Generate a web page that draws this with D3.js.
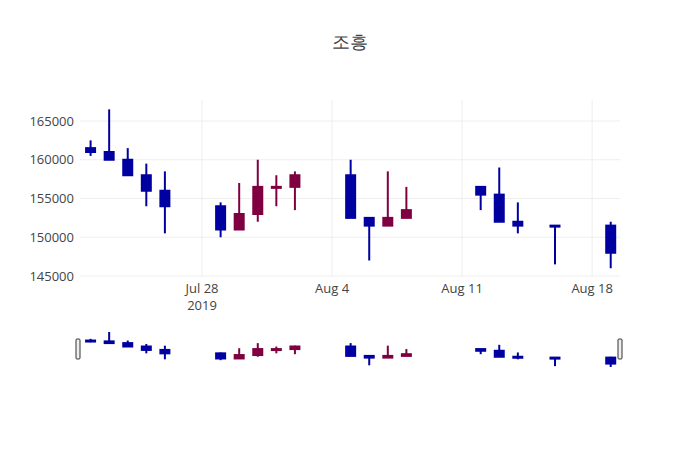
<!DOCTYPE html>
<html><head><meta charset="utf-8">
<script src="https://cdn.jsdelivr.net/npm/d3@7"></script>
<style>body{margin:0;background:#fff}text{font-family:"Open Sans",Verdana,sans-serif}</style>
</head><body><svg id="chart" width="700" height="450"></svg>
<script>
// candle data
var dates = ["2019-07-22","2019-07-23","2019-07-24","2019-07-25","2019-07-26",
  "2019-07-29","2019-07-30","2019-07-31","2019-08-01","2019-08-02",
  "2019-08-05","2019-08-06","2019-08-07","2019-08-08",
  "2019-08-12","2019-08-13","2019-08-14","2019-08-16","2019-08-19"];
var opens  = [161500,161000,160000,158000,156000,154000,151000,153000,156400,156500,158000,152500,151500,152500,156500,155500,152000,151500,151500];
var highs  = [162500,166500,161500,159500,158500,154500,157000,160000,158000,158500,160000,152500,158500,156500,156500,159000,154500,151500,152000];
var lows   = [160500,160000,158000,154000,150500,150000,151000,152000,154000,153500,152500,147000,151500,152500,153500,152000,150500,146500,146000];
var closes = [161000,160000,158000,156000,154000,151000,153000,156500,156500,158000,152500,151500,152500,153500,155500,152000,151500,151500,148000];
var yTicks = [145000,150000,155000,160000,165000];
var xTicks = ["2019-07-28","2019-08-04","2019-08-11","2019-08-18"];

var parse = d3.timeParse("%Y-%m-%d");
var rows = dates.map(function(d,i){return {date:parse(d),o:opens[i],h:highs[i],l:lows[i],c:closes[i]};});
var svg = d3.select("#chart");
var day = 864e5;

var x = d3.scaleTime().domain([new Date(parse("2019-07-22")-0.57*day), new Date(+parse("2019-08-19")+0.5*day)]).range([80,620]);
var y = d3.scaleLinear().domain([145000,165000]).range([276,121]);
var ys = d3.scaleLinear().domain([d3.min(lows),d3.max(highs)]).range([367,332]);

// grid
svg.append("g").selectAll("line").data(yTicks).join("line")
  .attr("x1",80).attr("x2",620).attr("y1",y).attr("y2",y).attr("stroke","#eee");
svg.append("g").selectAll("line").data(xTicks).join("line")
  .attr("x1",function(d){return x(parse(d));}).attr("x2",function(d){return x(parse(d));})
  .attr("y1",100).attr("y2",276).attr("stroke","#eee");

// axes labels
svg.append("g").selectAll("text").data(yTicks).join("text")
  .attr("x",74).attr("y",function(d){return y(d)+4.5;}).attr("text-anchor","end")
  .attr("font-size",13).attr("fill","#444").text(function(d){return d;});
var fmt = d3.timeFormat("%b %-d");
svg.append("g").selectAll("text").data(xTicks).join("text")
  .attr("x",function(d){return x(parse(d));}).attr("y",293).attr("text-anchor","middle")
  .attr("font-size",13).attr("fill","#444").text(function(d){return fmt(parse(d));});
svg.append("text").attr("x",x(parse(xTicks[0]))).attr("y",310).attr("text-anchor","middle")
  .attr("font-size",13).attr("fill","#444").text("2019");

svg.append("text").attr("x",350).attr("y",48).attr("text-anchor","middle")
  .attr("font-size",18).attr("fill","#444").attr("font-family","Noto Sans CJK KR").text("조흥");

function drawCandles(g, yScale, bw){
  var c = g.selectAll("g").data(rows).join("g");
  function col(d){return d.c>d.o ? "#7f0040" : "#0000a0";}
  c.append("line").attr("x1",function(d){return x(d.date);}).attr("x2",function(d){return x(d.date);})
    .attr("y1",function(d){return yScale(d.h);}).attr("y2",function(d){return yScale(d.l);})
    .attr("stroke",col).attr("stroke-width",2);
  c.append("rect").attr("x",function(d){return x(d.date)-bw/2;}).attr("width",bw)
    .attr("y",function(d){return yScale(Math.max(d.o,d.c));})
    .attr("height",function(d){return Math.max(1,Math.abs(yScale(d.o)-yScale(d.c)));})
    .attr("fill",col).attr("stroke",col).attr("stroke-width",2);
}
drawCandles(svg.append("g"), y, 9);

// range slider
var sl = svg.append("g");
sl.append("rect").attr("x",80).attr("y",331).attr("width",540).attr("height",38).attr("fill","#fff");
drawCandles(sl.append("g"), ys, 9);
[78,620].forEach(function(hx){
  sl.append("rect").attr("x",hx-2).attr("y",339).attr("width",4).attr("height",20).attr("rx",1)
    .attr("fill","#eee").attr("stroke","#333").attr("stroke-width",1);
});
</script></body></html>
